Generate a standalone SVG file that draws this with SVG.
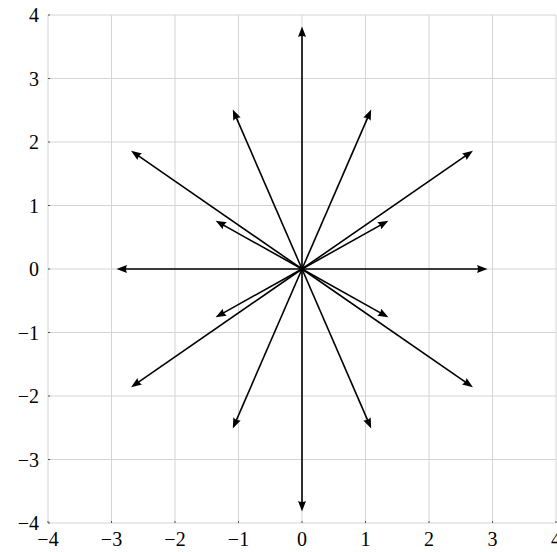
<svg xmlns="http://www.w3.org/2000/svg" width="557" height="552" viewBox="0 0 557 552">
<defs>
<style>
.grid line{stroke:#d4d4d4;stroke-width:1}
.ticks line{stroke:#333;stroke-width:0.8}
.lbl{font-family:"Liberation Serif",serif;font-size:20px;fill:#000}
.xl{text-anchor:middle}
.yl{text-anchor:end}
.vec line{stroke:#000;stroke-width:1.6;marker-end:url(#ah)}
</style>
<marker id="ah" markerUnits="userSpaceOnUse" markerWidth="13" markerHeight="10" viewBox="0 -5 13 10" refX="5" refY="0" orient="auto">
<path d="M10.5,0 L0,-4 Q2,0 0,4 Z" fill="#000"/>
</marker>
</defs>
<rect width="557" height="552" fill="#fff"/>
<g id="grid" class="grid">
<line x1="48" y1="15" x2="48" y2="523"/>
<line x1="111.5" y1="15" x2="111.5" y2="523"/>
<line x1="175" y1="15" x2="175" y2="523"/>
<line x1="238.5" y1="15" x2="238.5" y2="523"/>
<line x1="302" y1="15" x2="302" y2="523"/>
<line x1="365.5" y1="15" x2="365.5" y2="523"/>
<line x1="429" y1="15" x2="429" y2="523"/>
<line x1="492.5" y1="15" x2="492.5" y2="523"/>
<line x1="556" y1="15" x2="556" y2="523"/>
<line x1="48" y1="15" x2="556" y2="15"/>
<line x1="48" y1="78.5" x2="556" y2="78.5"/>
<line x1="48" y1="142" x2="556" y2="142"/>
<line x1="48" y1="205.5" x2="556" y2="205.5"/>
<line x1="48" y1="269" x2="556" y2="269"/>
<line x1="48" y1="332.5" x2="556" y2="332.5"/>
<line x1="48" y1="396" x2="556" y2="396"/>
<line x1="48" y1="459.5" x2="556" y2="459.5"/>
<line x1="48" y1="523" x2="556" y2="523"/>
</g>
<g id="ticks" class="ticks">
<line x1="48" y1="15" x2="50" y2="15"/>
<line x1="48" y1="78.5" x2="50" y2="78.5"/>
<line x1="48" y1="142" x2="50" y2="142"/>
<line x1="48" y1="205.5" x2="50" y2="205.5"/>
<line x1="48" y1="269" x2="50" y2="269"/>
<line x1="48" y1="332.5" x2="50" y2="332.5"/>
<line x1="48" y1="396" x2="50" y2="396"/>
<line x1="48" y1="459.5" x2="50" y2="459.5"/>
<line x1="48" y1="523" x2="50" y2="523"/>
<line x1="48" y1="523" x2="48" y2="521"/>
<line x1="111.5" y1="523" x2="111.5" y2="521"/>
<line x1="175" y1="523" x2="175" y2="521"/>
<line x1="238.5" y1="523" x2="238.5" y2="521"/>
<line x1="302" y1="523" x2="302" y2="521"/>
<line x1="365.5" y1="523" x2="365.5" y2="521"/>
<line x1="429" y1="523" x2="429" y2="521"/>
<line x1="492.5" y1="523" x2="492.5" y2="521"/>
<line x1="556" y1="523" x2="556" y2="521"/>
</g>
<g id="ylabels">
<text class="lbl yl" x="39" y="22">4</text>
<text class="lbl yl" x="39" y="85.5">3</text>
<text class="lbl yl" x="39" y="149">2</text>
<text class="lbl yl" x="39" y="212.5">1</text>
<text class="lbl yl" x="39" y="276">0</text>
<text class="lbl yl" x="39" y="339.5">−1</text>
<text class="lbl yl" x="39" y="403">−2</text>
<text class="lbl yl" x="39" y="466.5">−3</text>
<text class="lbl yl" x="39" y="530">−4</text>
</g>
<g id="xlabels">
<text class="lbl xl" x="48" y="546">−4</text>
<text class="lbl xl" x="111.5" y="546">−3</text>
<text class="lbl xl" x="175" y="546">−2</text>
<text class="lbl xl" x="238.5" y="546">−1</text>
<text class="lbl xl" x="302" y="546">0</text>
<text class="lbl xl" x="365.5" y="546">1</text>
<text class="lbl xl" x="429" y="546">2</text>
<text class="lbl xl" x="492.5" y="546">3</text>
<text class="lbl xl" x="556" y="546">4</text>
</g>
<g id="connectors" class="vec">
<line x1="302" y1="269" x2="302" y2="32"/>
<line x1="302" y1="269" x2="302" y2="506"/>
<line x1="302" y1="269" x2="482" y2="269"/>
<line x1="302" y1="269" x2="122" y2="269"/>
<line x1="302" y1="269" x2="468.4" y2="153.85"/>
<line x1="302" y1="269" x2="135.6" y2="153.85"/>
<line x1="302" y1="269" x2="135.6" y2="384.15"/>
<line x1="302" y1="269" x2="468.4" y2="384.15"/>
<line x1="302" y1="269" x2="369" y2="114.6"/>
<line x1="302" y1="269" x2="235" y2="114.6"/>
<line x1="302" y1="269" x2="235" y2="423.4"/>
<line x1="302" y1="269" x2="369" y2="423.4"/>
<line x1="302" y1="269" x2="383.6" y2="223.4"/>
<line x1="302" y1="269" x2="220.4" y2="223.4"/>
<line x1="302" y1="269" x2="220.4" y2="314.6"/>
<line x1="302" y1="269" x2="383.6" y2="314.6"/>
</g>
</svg>
